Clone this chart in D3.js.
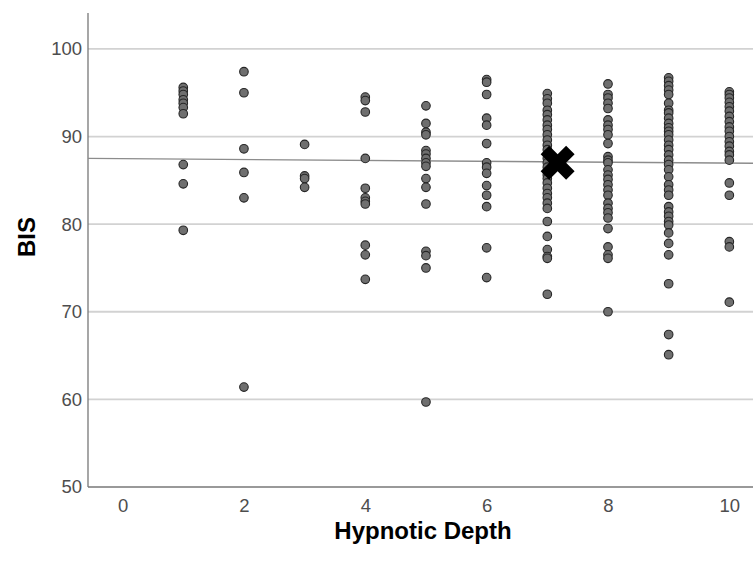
<!DOCTYPE html>
<html>
<head>
<meta charset="utf-8">
<style>
  body { margin: 0; background: #fff; }
  svg { display: block; }
</style>
</head>
<body>
<svg width="753" height="570" font-family="'Liberation Sans', Arial, sans-serif"></svg>
<script src="https://d3js.org/d3.v7.min.js"></script>
<script>

    // BIS readings at each hypnotic depth level
    var depths = [1, 2, 3, 4, 5, 6, 7, 8, 9, 10];
    var bis1 = [95.6, 95.2, 94.8, 94.2, 93.8, 93.3, 92.6, 86.8, 84.6, 79.3];
    var bis2 = [97.4, 95.0, 88.6, 85.9, 83.0, 61.4];
    var bis3 = [89.1, 85.5, 85.2, 84.2];
    var bis4 = [94.5, 94.1, 92.8, 87.5, 84.1, 83.0, 82.6, 82.3, 77.6, 76.5, 73.7];
    var bis5 = [93.5, 91.5, 90.5, 90.2, 88.4, 88.0, 87.5, 87.0, 86.6, 85.2, 84.2, 82.3, 76.9, 76.4, 75.0, 59.7];
    var bis6 = [96.5, 96.2, 94.8, 92.1, 91.3, 89.2, 87.0, 86.5, 85.8, 84.4, 83.3, 82.0, 77.3, 73.9];
    var bis7 = [94.9, 94.3, 93.8, 93.0, 92.5, 91.9, 91.3, 90.8, 90.2, 89.6, 89.0, 88.5, 88.0, 87.5, 87.0,
                86.5, 86.0, 85.6, 85.2, 84.7, 84.1, 83.5, 83.0, 82.4, 81.8, 80.3, 78.6, 77.1, 76.3, 76.1, 72.0];
    var bis8 = [96.0, 94.8, 94.4, 93.8, 93.2, 91.9, 91.3, 90.8, 90.2, 89.2, 87.7, 87.3, 87.0, 86.2, 85.6,
                85.1, 84.5, 83.9, 83.3, 82.4, 81.8, 81.3, 80.7, 79.5, 77.4, 76.5, 76.1, 70.0];
    var bis9 = [96.7, 96.3, 95.8, 95.3, 94.8, 93.8, 93.0, 92.7, 92.1, 91.5, 91.0, 90.6, 90.2, 89.6, 89.0,
                88.5, 87.9, 87.3, 86.8, 86.2, 85.4, 84.5, 83.9, 83.3, 82.0, 81.4, 80.9, 80.3, 79.9, 79.0,
                77.8, 76.5, 73.2, 67.4, 65.1];
    var bis10 = [95.1, 94.8, 94.4, 93.9, 93.4, 92.9, 92.3, 91.7, 91.1, 90.6, 90.0, 89.4, 88.9, 88.3, 87.9,
                 87.3, 84.7, 83.3, 78.0, 77.4, 71.1];
    var bisByDepth = [bis1, bis2, bis3, bis4, bis5, bis6, bis7, bis8, bis9, bis10];

    var xTicks = [0, 2, 4, 6, 8, 10];
    var yTicks = [50, 60, 70, 80, 90, 100];

    // fit line ends and the marked centre point
    var fitStart = [-0.57, 87.5];
    var fitEnd = [10.39, 86.95];
    var centroid = [7.17, 87.0];

    var svg = d3.select("svg");

    var x = d3.scaleLinear().domain([-0.57, 10.39]).range([88, 753]);
    var y = d3.scaleLinear().domain([50, 104.1]).range([487, 13]);

    var points = [];
    depths.forEach(function(d, i) {
        bisByDepth[i].forEach(function(v) { points.push({depth: d, bis: v}); });
    });

    // gridlines
    svg.append("g")
        .selectAll("line")
        .data(yTicks.filter(function(t) { return t > 50; }))
        .enter().append("line")
        .attr("x1", x.range()[0]).attr("x2", x.range()[1])
        .attr("y1", function(d) { return y(d); })
        .attr("y2", function(d) { return y(d); })
        .attr("stroke", "#d2d2d2")
        .attr("stroke-width", 1.8);

    // axes
    var yAxis = svg.append("g")
        .attr("transform", "translate(88,0)")
        .call(d3.axisLeft(y).tickValues(yTicks).tickSize(0).tickPadding(6));
    var xAxis = svg.append("g")
        .attr("transform", "translate(0,487)")
        .call(d3.axisBottom(x).tickValues(xTicks).tickSize(0).tickPadding(12));

    [xAxis, yAxis].forEach(function(a) {
        a.select(".domain").remove();
        a.selectAll("text")
            .attr("fill", "#4d4d4d")
            .attr("font-size", 18.5)
            .attr("font-family", "'Liberation Sans', Arial, sans-serif");
    });

    svg.append("line")
        .attr("x1", 88).attr("x2", 88)
        .attr("y1", y.range()[1]).attr("y2", y.range()[0])
        .attr("stroke", "#777").attr("stroke-width", 1.3);
    svg.append("line")
        .attr("x1", 88).attr("x2", x.range()[1])
        .attr("y1", y.range()[0]).attr("y2", y.range()[0])
        .attr("stroke", "#777").attr("stroke-width", 1.3);

    // fit line
    svg.append("line")
        .attr("x1", x(fitStart[0])).attr("y1", y(fitStart[1]))
        .attr("x2", x(fitEnd[0])).attr("y2", y(fitEnd[1]))
        .attr("stroke", "#8c8c8c")
        .attr("stroke-width", 1.3);

    // points
    svg.append("g")
        .selectAll("circle")
        .data(points)
        .enter().append("circle")
        .attr("cx", function(d) { return x(d.depth); })
        .attr("cy", function(d) { return y(d.bis); })
        .attr("r", 4.3)
        .attr("fill", "#6f6f6f")
        .attr("stroke", "#262626")
        .attr("stroke-width", 1.1);

    // big X marker
    svg.append("path")
        .attr("d", d3.symbol().type(d3.symbolCross).size(720))
        .attr("transform", "translate(" + x(centroid[0]) + "," + y(centroid[1]) + ") rotate(45)")
        .attr("fill", "#000");

    // axis titles
    svg.append("text")
        .attr("x", 423).attr("y", 539)
        .attr("text-anchor", "middle")
        .attr("font-size", 24)
        .attr("font-weight", "bold")
        .text("Hypnotic Depth");

    svg.append("text")
        .attr("transform", "translate(35,237) rotate(-90)")
        .attr("text-anchor", "middle")
        .attr("font-size", 24)
        .attr("font-weight", "bold")
        .text("BIS");

</script>
</body>
</html>
